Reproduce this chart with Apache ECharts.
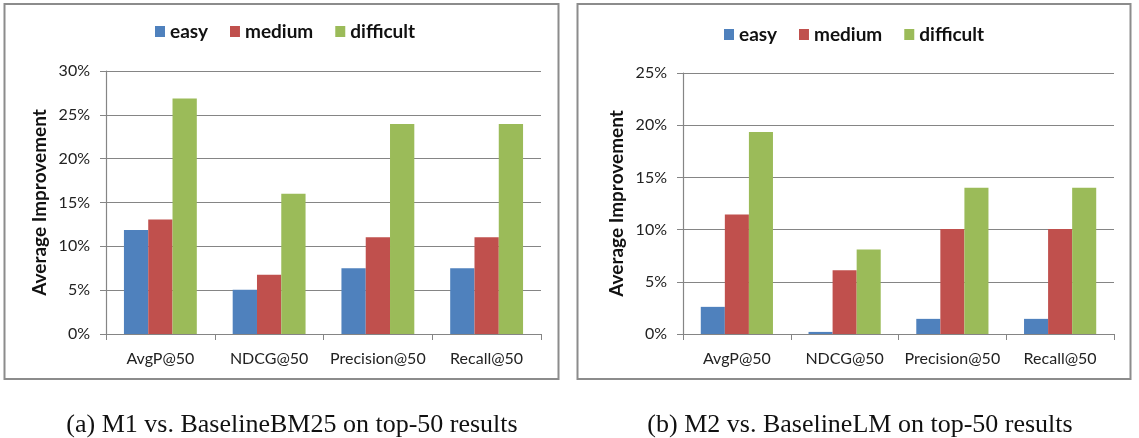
<!DOCTYPE html>
<html>
<head>
<meta charset="utf-8">
<script src="https://cdn.jsdelivr.net/npm/echarts@6/dist/echarts.min.js"></script>
<style>
html,body{margin:0;padding:0;background:#fff;}
#c{width:1139px;height:438px;}
</style>
</head>
<body>
<div id="c"></div>
<script>
const categories = ['AvgP@50', 'NDCG@50', 'Precision@50', 'Recall@50'];
const seriesNames = ['easy', 'medium', 'difficult'];
// Panel (a): M1 vs. BaselineBM25 (percent)
const m1Easy = [11.85, 5.05, 7.5, 7.5];
const m1Medium = [13.05, 6.75, 11.05, 11.05];
const m1Difficult = [26.85, 16.0, 23.95, 23.95];
// Panel (b): M2 vs. BaselineLM (percent)
const m2Easy = [2.6, 0.2, 1.45, 1.45];
const m2Medium = [11.45, 6.1, 10.05, 10.05];
const m2Difficult = [19.35, 8.1, 14.0, 14.0];
const yTicksA = { min: 0, max: 30, interval: 5 };
const yTicksB = { min: 0, max: 25, interval: 5 };
const captionA = '(a) M1 vs. BaselineBM25 on top-50 results';
const captionB = '(b) M2 vs. BaselineLM on top-50 results';
const yName = 'Average Improvement';

const colors = ['#4F81BD', '#C0504D', '#9BBB59'];
const sansFont = 'Lato';
const gridColor = '#858585';

function xAxis(gridIndex) {
  return {
    type: 'category', gridIndex, data: categories,
    axisLine: { show: true, lineStyle: { color: gridColor, width: 1.2 } },
    axisTick: { show: true, length: 6, interval: 0, lineStyle: { color: gridColor } },
    axisLabel: { margin: 17, color: '#222', fontFamily: sansFont, fontSize: 16, interval: 0 }
  };
}
function yAxis(gridIndex, t) {
  return {
    type: 'value', gridIndex, min: t.min, max: t.max, interval: t.interval,
    name: yName, nameLocation: 'middle', nameGap: 57, nameRotate: 90,
    nameTextStyle: { fontFamily: sansFont, fontWeight: 'bold', fontSize: 19, color: '#111' },
    axisLine: { show: true, lineStyle: { color: gridColor, width: 1.2 } },
    axisTick: { show: true, length: 6, lineStyle: { color: gridColor } },
    splitLine: { show: true, lineStyle: { color: gridColor, width: 1.2 } },
    axisLabel: { formatter: '{value}%', margin: 16, color: '#222', fontFamily: sansFont, fontSize: 16 }
  };
}
function bars(idx, data) {
  return data.map((d, i) => ({
    name: seriesNames[i], type: 'bar', xAxisIndex: idx, yAxisIndex: idx, data: d,
    barGap: '0%', barCategoryGap: '33%',
    itemStyle: { color: colors[i] }
  }));
}
function legend(left, top) {
  return {
    data: seriesNames, left, top, icon: 'rect', itemWidth: 10, itemHeight: 11, itemGap: 22,
    textStyle: { fontFamily: sansFont, fontWeight: 'bold', fontSize: 19, color: '#111' },
    selectedMode: false
  };
}

const chart = echarts.init(document.getElementById('c'), null, { renderer: 'canvas' });
chart.setOption({
  animation: false,
  color: colors,
  legend: [legend(150, 17), legend(719, 20)],
  grid: [
    { left: 106, top: 71, width: 435, height: 263 },
    { left: 683, top: 73, width: 431, height: 261 }
  ],
  xAxis: [xAxis(0), xAxis(1)],
  yAxis: [yAxis(0, yTicksA), yAxis(1, yTicksB)],
  series: [...bars(0, [m1Easy, m1Medium, m1Difficult]), ...bars(1, [m2Easy, m2Medium, m2Difficult])],
  graphic: [
    { type: 'rect', shape: { x: 4.5, y: 4, width: 554, height: 375 }, style: { fill: 'none', stroke: '#8c8c8c', lineWidth: 2 } },
    { type: 'rect', shape: { x: 577.5, y: 4, width: 553, height: 375 }, style: { fill: 'none', stroke: '#8c8c8c', lineWidth: 2 } },
    { type: 'text', x: 292, y: 425, style: { text: captionA, fontFamily: 'Liberation Serif', fontSize: 26, fill: '#111', textAlign: 'center', textVerticalAlign: 'middle' } },
    { type: 'text', x: 860, y: 425, style: { text: captionB, fontFamily: 'Liberation Serif', fontSize: 26, fill: '#111', textAlign: 'center', textVerticalAlign: 'middle' } }
  ]
});
</script>
</body>
</html>
